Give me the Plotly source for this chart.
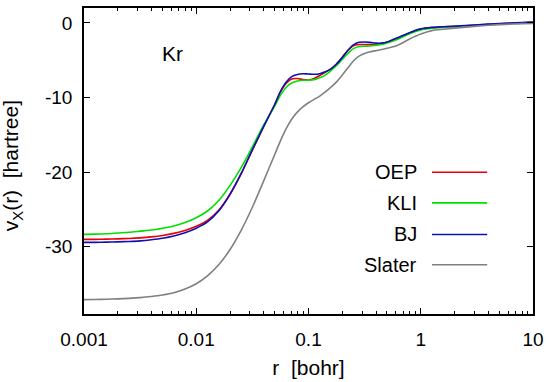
import plotly.graph_objects as go

# radial grid (bohr)
r = [0.001, 0.001259, 0.001585, 0.001995, 0.002512, 0.003162, 0.003981, 0.005012, 0.00631,
     0.007943, 0.01, 0.01259, 0.01585, 0.01995, 0.02512, 0.03162, 0.03981, 0.05012,
     0.05623, 0.0631, 0.07079, 0.07943, 0.08913, 0.1, 0.1122, 0.1259, 0.1413, 0.1585,
     0.1778, 0.1995, 0.2239, 0.2512, 0.2818, 0.3162, 0.3548, 0.3981, 0.4467, 0.5012,
     0.631, 0.7943, 1.0, 1.259, 1.585, 1.995, 2.512, 3.162, 3.981, 5.012, 6.31, 7.943, 10.0]

oep = [-29.0, -29.0, -28.97, -28.93, -28.88, -28.8, -28.67, -28.48, -28.2,
       -27.8, -27.25, -26.45, -25.1, -22.95, -20.2, -17.0, -13.9, -10.9,
       -9.25, -8.1, -7.5, -7.45, -7.6, -7.65, -7.45, -7.05, -6.6, -6.15,
       -5.5, -4.65, -3.7, -3.05, -2.9, -2.9, -2.9, -2.85, -2.75, -2.6,
       -2.0, -1.35, -0.85, -0.62, -0.53, -0.46, -0.37, -0.28, -0.18, -0.12, -0.05, 0.02, 0.1]

kli = [-28.33, -28.3, -28.25, -28.15, -28.05, -27.9, -27.75, -27.5, -27.2,
       -26.75, -26.1, -25.2, -23.8, -21.8, -19.4, -16.6, -13.7, -11.1,
       -9.7, -8.65, -8.05, -7.78, -7.68, -7.68, -7.6, -7.35, -7.0, -6.4,
       -5.7, -4.9, -4.1, -3.45, -3.15, -3.12, -3.1, -3.0, -2.9, -2.7,
       -2.15, -1.45, -0.95, -0.72, -0.6, -0.5, -0.41, -0.32, -0.23, -0.16, -0.08, -0.01, 0.05]

bj = [-29.4, -29.4, -29.37, -29.33, -29.28, -29.2, -29.05, -28.85, -28.55,
      -28.1, -27.5, -26.65, -25.2, -23.0, -20.2, -17.0, -13.9, -10.9,
      -9.2, -7.95, -7.2, -6.9, -6.8, -6.85, -6.88, -6.8, -6.55, -6.15,
      -5.5, -4.65, -3.7, -2.95, -2.6, -2.55, -2.6, -2.7, -2.7, -2.55,
      -1.95, -1.3, -0.8, -0.6, -0.51, -0.44, -0.35, -0.26, -0.16, -0.1, -0.03, 0.04, 0.12]

slater = [-37.07, -37.05, -37.02, -36.97, -36.9, -36.8, -36.65, -36.45, -36.15,
          -35.65, -34.95, -33.9, -32.4, -30.4, -27.8, -24.7, -21.2, -17.6,
          -15.8, -14.2, -12.9, -11.95, -11.25, -10.7, -10.25, -9.8, -9.25, -8.6,
          -7.9, -7.0, -6.05, -5.1, -4.45, -4.08, -3.88, -3.72, -3.57, -3.4,
          -2.95, -2.15, -1.48, -1.03, -0.85, -0.7, -0.56, -0.43, -0.32, -0.23, -0.16, -0.1, -0.08]

series_names = ["OEP", "KLI", "BJ", "Slater"]
series_vals = [oep, kli, bj, slater]
series_colors = ["#e8000b", "#00e000", "#1010b0", "#808080"]

x_tickvals = [0.001, 0.01, 0.1, 1, 10]
x_ticktext = ["0.001", "0.01", "0.1", "1", "10"]
y_tickvals = [-30, -20, -10, 0]
y_ticktext = ["-30", "-20", "-10", "0"]

FONT = "Liberation Sans, Arial, sans-serif"

fig = go.Figure()
for name, vals, col in zip(series_names, series_vals, series_colors):
    fig.add_trace(go.Scatter(x=r, y=vals, mode="lines", name=name,
                             line=dict(color=col, width=1.6, shape="spline", smoothing=0.8),
                             showlegend=False))

# manual legend (gnuplot style: text right, sample on right)
leg_y = [0.463, 0.363, 0.260, 0.161]
for name, col, yy in zip(series_names, series_colors, leg_y):
    fig.add_annotation(x=0.746, y=yy, xref="paper", yref="paper", text=name,
                       showarrow=False, xanchor="right", yanchor="middle",
                       font=dict(family=FONT, size=20, color="black"))
    fig.add_shape(type="line", xref="paper", yref="paper", x0=0.775, x1=0.898,
                  y0=yy, y1=yy, line=dict(color=col, width=1.6))

fig.add_annotation(x=0.198, y=0.852, xref="paper", yref="paper", text="Kr",
                   showarrow=False, xanchor="center", yanchor="middle",
                   font=dict(family=FONT, size=21, color="black"))

# y-axis title as rotated annotation
fig.add_annotation(x=-0.160, y=0.5, xref="paper", yref="paper",
                   text="v<sub>X</sub>(r)\u00a0\u00a0[hartree]", textangle=-90,
                   showarrow=False, xanchor="center", yanchor="middle", yshift=-5,
                   font=dict(family=FONT, size=21, color="black"))

minor_vals = [m * 10.0 ** e for e in range(-3, 1) for m in range(2, 10)]

fig.update_layout(
    width=554, height=382,
    margin=dict(l=84, r=21, t=6, b=65),
    paper_bgcolor="white", plot_bgcolor="white",
    font=dict(family=FONT, size=19, color="black"),
    xaxis=dict(type="log", range=[-3, 1], tickmode="array",
               tickvals=x_tickvals, ticktext=x_ticktext,
               ticks="inside", ticklen=6, tickwidth=1, tickcolor="black",
               showline=True, linecolor="black", linewidth=1.5, mirror="allticks",
               showgrid=False, zeroline=False,
               minor=dict(ticks="inside", ticklen=3, tickcolor="black",
                          tickmode="array", tickvals=minor_vals, showgrid=False),
               ticklabelstandoff=7,
               title=dict(text="r\u00a0\u00a0[bohr]", standoff=12,
                          font=dict(family=FONT, size=21))),
    yaxis=dict(range=[-39, 2], tickmode="array",
               tickvals=y_tickvals, ticktext=y_ticktext,
               ticks="inside", ticklen=6, tickwidth=1, tickcolor="black",
               showline=True, linecolor="black", linewidth=1.5, mirror="allticks",
               showgrid=False, zeroline=False,
               ticklabelstandoff=6),
)

fig.write_html("out.html")
